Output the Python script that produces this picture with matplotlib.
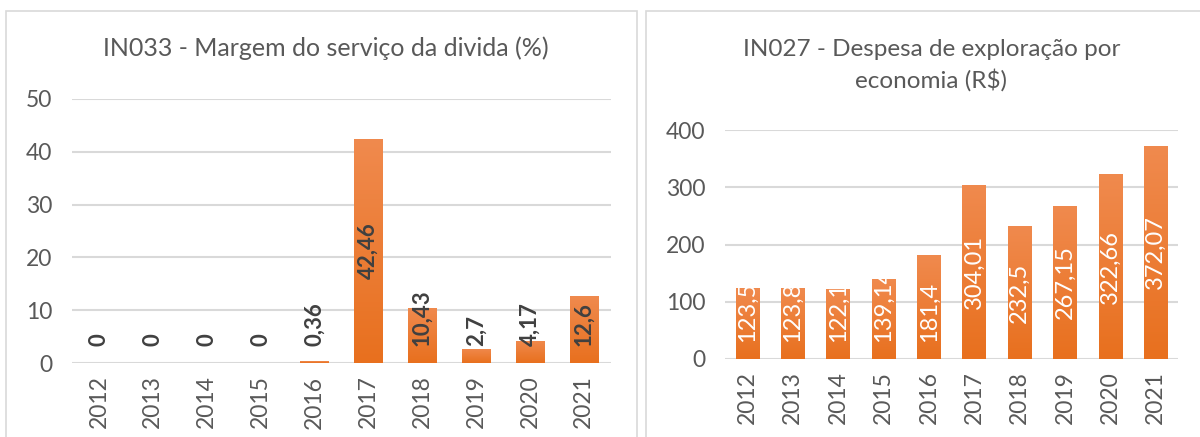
import numpy as np
import matplotlib.pyplot as plt
from matplotlib.patches import Rectangle
from matplotlib.colors import LinearSegmentedColormap

years = ['2012', '2013', '2014', '2015', '2016', '2017', '2018', '2019', '2020', '2021']
in033 = [0, 0, 0, 0, 0.36, 42.46, 10.43, 2.7, 4.17, 12.6]
in033_labels = ['0', '0', '0', '0', '0,36', '42,46', '10,43', '2,7', '4,17', '12,6']
in027 = [123.5, 123.8, 122.1, 139.14, 181.4, 304.01, 232.5, 267.15, 322.66, 372.07]
in027_labels = ['123,5', '123,8', '122,1', '139,14', '181,4', '304,01', '232,5', '267,15', '322,66', '372,07']

plt.rcParams['font.family'] = ['Lato', 'DejaVu Sans']
gray = '#595959'
grid_c = '#D9D9D9'
orange_cmap = LinearSegmentedColormap.from_list('og', ['#E8701E', '#F08A4E'])

fig = plt.figure(figsize=(12, 4.37), dpi=100)

# panel borders
for (x0, y0, w, h) in [(6, 11, 631, 440), (646, 11, 570, 440)]:
    fig.patches.append(Rectangle((x0 / 1200, 1 - (y0 + h) / 437), w / 1200, h / 437,
                                 transform=fig.transFigure, fill=False,
                                 edgecolor='#D9D9D9', linewidth=1.2))


def gradient_bars(ax, vals, ymax):
    bars = ax.bar(range(len(vals)), vals, width=0.52, color='#ED7D31', zorder=3)
    grad = np.linspace(0, 1, 256).reshape(-1, 1)
    for b in bars:
        if b.get_height() <= 0:
            continue
        x0 = b.get_x()
        im = ax.imshow(grad, cmap=orange_cmap, aspect='auto', origin='lower',
                       extent=[x0, x0 + b.get_width(), 0, b.get_height()], zorder=3)
        im.set_clip_path(b)
    ax.set_xlim(-0.5, len(vals) - 0.5)
    ax.set_ylim(0, ymax)
    return bars


def style(ax, ticks):
    ax.set_yticks(ticks)
    ax.set_xticks(range(len(years)))
    ax.set_xticklabels(years, rotation=90)
    ax.tick_params(axis='both', length=0, labelsize=16.5, colors=gray)
    ax.tick_params(axis='x', pad=9)
    ax.tick_params(axis='y', pad=14)
    for s in ax.spines.values():
        s.set_visible(False)
    ax.grid(axis='y', color=grid_c, linewidth=1.5, zorder=0)
    ax.set_axisbelow(True)


# left chart
ax1 = fig.add_axes([0.06, 0.1693, 0.449, 0.6042])
gradient_bars(ax1, in033, 50)
style(ax1, [0, 10, 20, 30, 40, 50])
for i, (v, lab) in enumerate(zip(in033, in033_labels)):
    if v > 30:
        ax1.text(i, v / 2, lab, rotation=90, ha='center', va='center',
                 fontsize=16, fontweight='bold', color='#404040', zorder=5)
    else:
        ax1.text(i, 3.2, lab, rotation=90, ha='center', va='bottom',
                 fontsize=16, fontweight='bold', color='#404040', zorder=5)
fig.text(0.2717, 0.89, 'IN033 - Margem do serviço da divida (%)', ha='center', va='center',
         fontsize=18, color=gray)

# right chart
ax2 = fig.add_axes([0.604, 0.1785, 0.378, 0.524])
gradient_bars(ax2, in027, 400)
style(ax2, [0, 100, 200, 300, 400])
for i, (v, lab) in enumerate(zip(in027, in027_labels)):
    if v < 200:
        ax2.text(i, 30, lab, rotation=90, ha='center', va='bottom',
                 fontsize=17, color='white', zorder=5)
    else:
        ax2.text(i, v / 2, lab, rotation=90, ha='center', va='center',
                 fontsize=17, color='white', zorder=5)
fig.text(0.776, 0.85, 'IN027 - Despesa de exploração por\neconomia (R$)', ha='center', va='center',
         fontsize=17.5, color=gray, linespacing=1.45)

fig.savefig('out.png', dpi=100)
